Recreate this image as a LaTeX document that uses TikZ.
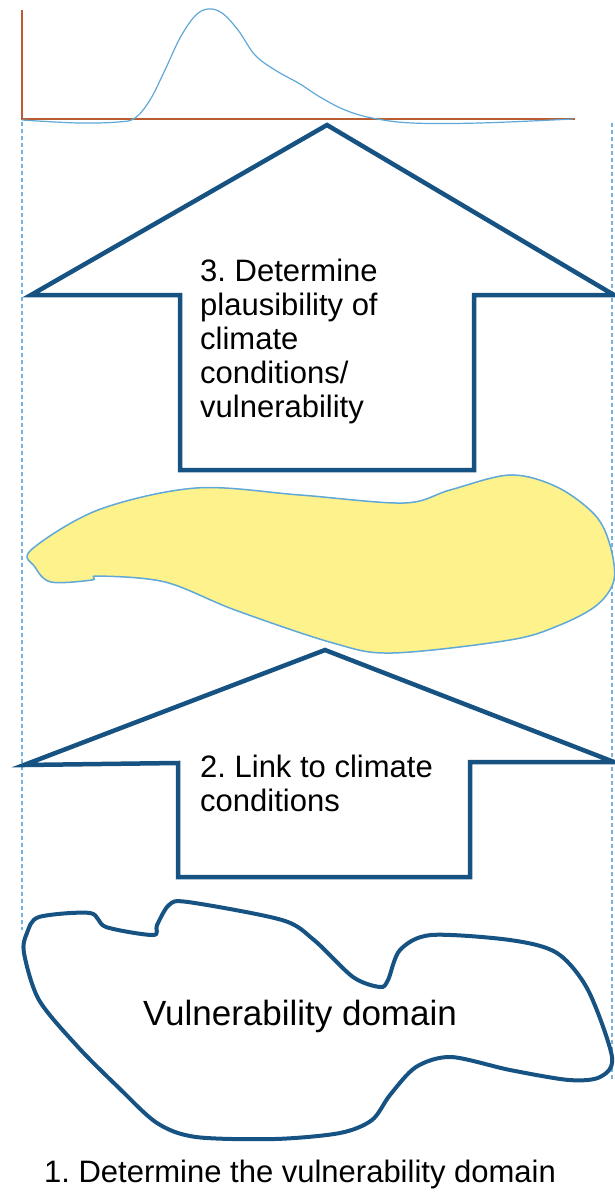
\documentclass[tikz,border=0pt]{standalone}
\usepackage{fontspec}
\setmainfont{Liberation Sans}
\usepackage{tikz}
\definecolor{arrowblue}{RGB}{22,82,130}
\definecolor{axisbrown}{RGB}{185,92,48}
\definecolor{curveblue}{RGB}{95,168,215}
\definecolor{guideblue}{RGB}{115,178,225}
\definecolor{climyellow}{RGB}{253,242,140}
\frenchspacing

\begin{document}
\begin{tikzpicture}[x=1pt, y=-1pt,
  every node/.style={inner sep=0pt, font=\fontsize{31}{34}\selectfont},
  bigarrow/.style={draw=arrowblue, line width=4.5pt, line join=miter, fill=white},
  guide/.style={guideblue, line width=1.2pt, dash pattern=on 4pt off 3pt},
  axis/.style={axisbrown, line width=2pt},
  steptext/.style={align=left, anchor=north west},
]
\useasboundingbox (0,0) rectangle (615,1196);

% Guides down both sides
\draw[guide] (22,122) -- (22,930);
\draw[guide] (612,123) -- (612,1080);

% Top: density curve over the axes
\draw[axis] (22,10) -- (22,119) -- (575,119);
\draw[curveblue, line width=1.2pt] plot[smooth, tension=0.6] coordinates {
  (22,120) (78,123) (118,122) (135,118) (150,100) (165,70) (180,38)
  (195,16) (208,9) (222,13) (238,30) (255,55) (275,70) (300,84)
  (320,97) (345,110) (372,118) (412,123) (480,123) (573,119)};

% Arrow 3
\draw[bigarrow] (327,125) -- (614,295) -- (474,295) -- (474,470)
  -- (180,470) -- (180,295) -- (31,295) -- cycle;
\node (plaus) [steptext] at (200,259)
  {3. Determine\\plausibility of\\climate\\conditions/\\vulnerability};

% Climate conditions (yellow)
\draw[fill=climyellow, draw=curveblue, line width=1.5pt]
  plot[smooth cycle, tension=0.55] coordinates {
  (31,550) (98,510) (196,488) (300,495) (404,503) (450,490) (510,475)
  (557,487) (595,515) (610,545) (614,580) (597,605) (560,625) (510,640)
  (392,653) (333,643) (235,610) (165,582) (98,576) (92,580) (51,582)
  (35,567)};

% Arrow 2
\draw[bigarrow] (325,650) -- (614,762) -- (470,762) -- (470,877)
  -- (178,877) -- (178,763) -- (24,765) -- cycle;
\node (link) [steptext] at (200,755) {2. Link to climate\\conditions};

% Vulnerability domain
\draw[arrowblue, line width=4pt] plot[smooth cycle, tension=0.5] coordinates {
  (39,917) (90,913) (106,927) (153,935) (157,925) (169,905) (188,902)
  (282,920) (314,940) (353,977) (380,987) (388,980) (400,950)
  (431,935) (510,940) (557,953) (588,990) (612,1057) (600,1077)
  (569,1080) (510,1070) (451,1057) (416,1067) (390,1095) (372,1120)
  (340,1133) (275,1139) (196,1137) (157,1123) (118,1087) (78,1047)
  (39,1000) (24,953) (27,933)};
\node (domain) [anchor=base, font=\fontsize{35}{40}\selectfont] at (300,1025)
  {Vulnerability domain};

% Step 1 caption
\node (caption) [anchor=base] at (300,1182)
  {1. Determine the vulnerability domain};

\end{tikzpicture}
\end{document}
